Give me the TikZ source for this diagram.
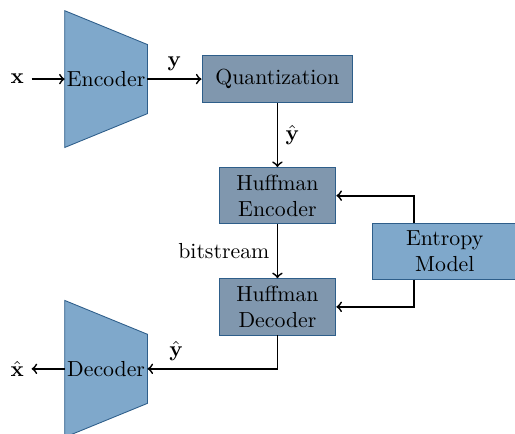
\documentclass[tikz,border=0pt]{standalone}
\usepackage{amsmath}
\usetikzlibrary{positioning,backgrounds,calc}

\definecolor{netblue}{HTML}{7FA8CB}
\definecolor{stepgray}{HTML}{8097AE}
\definecolor{edgeblue}{HTML}{2E5E8A}

\begin{document}
\begin{tikzpicture}[
    netnode/.style={inner sep=0pt, minimum width=37.6pt, minimum height=62.4pt},
    trapfill/.style={fill=netblue, draw=edgeblue, thin},
    boxnode/.style={rectangle, draw=edgeblue, fill=stepgray, thin, align=center},
    entnode/.style={rectangle, draw=edgeblue, fill=netblue, thin, align=center,
                    minimum width=66.1pt, minimum height=25.7pt},
    huffnode/.style={boxnode, minimum width=53.7pt, minimum height=25.7pt},
    conn/.style={->, thick}]

        \useasboundingbox (0,0) rectangle (236.4pt,-199.2pt);

        \node[netnode] (enc) at (48.7pt,-36.3pt) {Encoder};
        \node[boxnode, minimum width=69.3pt, minimum height=21.6pt] (quant) [right=24.8pt of enc] {Quantization};
        \node[huffnode] (henc) [below=29.4pt of quant] {Huffman\\Encoder};
        \node[huffnode] (hdec) [below=24.8pt of henc] {Huffman\\Decoder};
        \coordinate (mid) at ($(henc.east)!0.5!(hdec.east)$);
        \node[entnode, anchor=west] (ent) at ([xshift=16.5pt]mid) {Entropy\\Model};
        \node[netnode] (dec) [below=70.2pt of enc] {Decoder};
        \node (xin) [left=15.2pt of enc] {$\mathbf{x}$};
        \node (xout) [left=15.2pt of dec] {$\hat{\mathbf{x}}$};

        % trapezoids behind the text
        \begin{pgfonlayer}{background}
            \draw[trapfill] (enc.north west) -- ([yshift=15.85pt]enc.east)
                -- ([yshift=-15.85pt]enc.east) -- (enc.south west) -- cycle;
            \draw[trapfill] (dec.north west) -- ([yshift=15.85pt]dec.east)
                -- ([yshift=-15.85pt]dec.east) -- (dec.south west) -- cycle;
        \end{pgfonlayer}

        \draw[conn] (xin) -- (enc);
        \draw[conn] (enc) -- node[above] {$\mathbf{y}$} (quant);
        \draw[conn] (quant) -- node[right] {$\hat{\mathbf{y}}$} (henc);
        \draw[conn] (henc) -- node[left] {bitstream} (hdec);
        \draw[conn] ([xshift=-14.2pt]ent.north) |- (henc.east);
        \draw[conn] ([xshift=-14.2pt]ent.south) |- (hdec.east);
        \draw[conn] (hdec.south) |- node[pos=0.89, above] {$\hat{\mathbf{y}}$} (dec.east);
        \draw[conn] (dec) -- (xout);

\end{tikzpicture}
\end{document}
